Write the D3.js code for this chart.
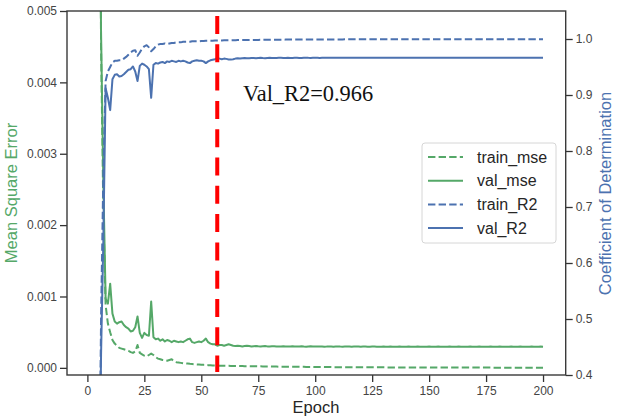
<!DOCTYPE html>
<html><head><meta charset="utf-8">
<script src="https://cdn.jsdelivr.net/npm/d3@7"></script>
<style>body{margin:0;background:#fff}svg{display:block}</style>
</head><body>
<svg id="chart" width="627" height="416"></svg>
<script>
// ---------- data (epochs 1..200) ----------
const trainMse = [
0.08,0.045,0.028,0.017,0.0095,0.0045,0.0022,0.00088,0.00062,0.0005,
0.00039,0.00034,0.00031,0.00028,0.00027,0.00026,0.00025,0.00024,0.00022,0.00021,
0.00023,0.00032,0.00021,0.00019,0.00017,0.00016,0.00018,0.0002,0.00018,0.00015,
0.00013,0.00012,0.00011,0.000105,0.0001,0.00011,0.00012,0.00009,0.00008,0.000075,
0.00007,0.000065,0.000062,0.00006,0.000056,0.000053,0.00005,0.000048,0.000046,0.000044,
0.000042,0.00004,0.000038,0.000036,0.000034,0.000033,0.000032,0.000031,0.00003,0.000029,
2.8e-5,2.8e-5,2.7e-5,2.7e-5,2.6e-5,2.6e-5,2.5e-5,2.5e-5,2.4e-5,2.4e-5,
2.3e-5,2.3e-5,2.2e-5,2.2e-5,2.1e-5,2.1e-5,2.0e-5,2.0e-5,1.9e-5,1.9e-5,
1.8e-5,1.8e-5,1.8e-5,1.7e-5,1.7e-5,1.7e-5,1.6e-5,1.6e-5,1.6e-5,1.5e-5,
1.5e-5,1.5e-5,1.4e-5,1.4e-5,1.4e-5,1.3e-5,1.3e-5,1.3e-5,1.3e-5,1.2e-5,
1.2e-5,1.2e-5,1.2e-5,1.1e-5,1.1e-5,1.1e-5,1.1e-5,1.0e-5,1.0e-5,1.0e-5,
1.0e-5,1.0e-5,9.5e-6,9.5e-6,9.0e-6,9.0e-6,9.0e-6,8.5e-6,8.5e-6,8.5e-6,
8.0e-6,8.0e-6,8.0e-6,7.8e-6,7.6e-6,7.5e-6,7.3e-6,7.2e-6,7.0e-6,7.0e-6,
6.8e-6,6.7e-6,6.6e-6,6.5e-6,6.4e-6,6.2e-6,6.1e-6,6.0e-6,5.9e-6,5.8e-6,
5.7e-6,5.6e-6,5.5e-6,5.4e-6,5.3e-6,5.2e-6,5.1e-6,5.0e-6,5.0e-6,4.9e-6,
4.8e-6,4.7e-6,4.7e-6,4.6e-6,4.5e-6,4.5e-6,4.4e-6,4.3e-6,4.3e-6,4.2e-6,
4.2e-6,4.1e-6,4.0e-6,4.0e-6,3.9e-6,3.9e-6,3.8e-6,3.8e-6,3.7e-6,3.7e-6,
3.6e-6,3.6e-6,3.5e-6,3.5e-6,3.5e-6,3.4e-6,3.4e-6,3.3e-6,3.3e-6,3.3e-6,
3.2e-6,3.2e-6,3.2e-6,3.1e-6,3.1e-6,3.1e-6,3.0e-6,3.0e-6,3.0e-6,2.9e-6,
2.9e-6,2.9e-6,2.8e-6,2.8e-6,2.8e-6,2.7e-6,2.7e-6,2.7e-6,2.7e-6,2.6e-6];

const valMse = [
0.06,0.035,0.022,0.014,0.0085,0.0047,0.0026,0.00097,0.0009,0.00118,
0.00076,0.00065,0.00062,0.00064,0.00065,0.0006,0.00057,0.00055,0.00051,0.00052,
0.00057,0.00072,0.00049,0.00042,0.00049,0.00046,0.00045,0.00093,0.00043,0.0004,
0.00041,0.00038,0.0004,0.00037,0.00039,0.00038,0.00036,0.00038,0.00037,0.00036,
0.00037,0.00036,0.00038,0.0004,0.00041,0.00036,0.00035,0.00036,0.00037,0.00036,
0.00038,0.00041,0.00036,0.00034,0.00033,0.00033,0.00031,0.00032,0.00032,0.00031,
3.2e-4,3.3e-4,3.2e-4,3.1e-4,3.05e-4,3.1e-4,3.05e-4,3.0e-4,3.05e-4,3.1e-4,
3.05e-4,3.0e-4,3.03e-4,3.06e-4,3.02e-4,2.99e-4,3.03e-4,3.05e-4,3.01e-4,2.99e-4,
3.02e-4,3.04e-4,3.01e-4,2.98e-4,3.0e-4,3.03e-4,3.01e-4,2.99e-4,3.01e-4,3.03e-4,
3.0e-4,2.98e-4,3.01e-4,3.02e-4,2.99e-4,2.97e-4,3.0e-4,3.02e-4,3.0e-4,2.98e-4,
2.99e-4,3.01e-4,2.99e-4,2.97e-4,2.98e-4,3.0e-4,2.99e-4,2.97e-4,2.99e-4,3.0e-4,
2.98e-4,2.97e-4,2.99e-4,3.0e-4,2.98e-4,2.96e-4,2.98e-4,2.99e-4,2.98e-4,2.97e-4,
2.98e-4,2.99e-4,2.97e-4,2.96e-4,2.98e-4,2.99e-4,2.97e-4,2.96e-4,2.97e-4,2.98e-4,
2.97e-4,2.96e-4,2.98e-4,2.97e-4,2.96e-4,2.97e-4,2.98e-4,2.97e-4,2.96e-4,2.97e-4,
2.98e-4,2.97e-4,2.96e-4,2.97e-4,2.98e-4,2.97e-4,2.96e-4,2.97e-4,2.97e-4,2.98e-4,
2.97e-4,2.96e-4,2.97e-4,2.98e-4,2.97e-4,2.96e-4,2.97e-4,2.97e-4,2.98e-4,2.97e-4,
2.96e-4,2.97e-4,2.98e-4,2.97e-4,2.96e-4,2.97e-4,2.97e-4,2.98e-4,2.97e-4,2.96e-4,
2.97e-4,2.98e-4,2.97e-4,2.96e-4,2.97e-4,2.97e-4,2.98e-4,2.97e-4,2.96e-4,2.97e-4,
2.98e-4,2.97e-4,2.96e-4,2.97e-4,2.97e-4,2.98e-4,2.97e-4,2.96e-4,2.97e-4,2.98e-4,
2.97e-4,2.96e-4,2.97e-4,2.97e-4,2.98e-4,2.97e-4,2.96e-4,2.97e-4,2.98e-4,2.97e-4];

const trainR2 = [
-5.0,-2.2,-0.9,-0.25,0.1,0.5,0.76,0.925,0.942,0.95,
0.958,0.961,0.961,0.962,0.962,0.965,0.968,0.972,0.976,0.979,
0.98,0.97,0.976,0.983,0.987,0.989,0.985,0.978,0.982,0.987,
0.99,0.991,0.991,0.992,0.991,0.992,0.993,0.993,0.994,0.994,
0.994,0.995,0.995,0.995,0.995,0.996,0.996,0.996,0.996,0.9965,
0.9965,0.9967,0.9968,0.997,0.997,0.9972,0.9973,0.9974,0.9975,0.9976,
0.9977,0.9977,0.9978,0.9979,0.9979,0.998,0.9981,0.9981,0.9982,0.9982,
0.9983,0.9983,0.9984,0.9984,0.9984,0.9985,0.9985,0.9986,0.9986,0.9986,
0.9987,0.9987,0.9987,0.9988,0.9988,0.9988,0.9989,0.9989,0.9989,0.9989,
0.999,0.999,0.999,0.999,0.9991,0.9991,0.9991,0.9991,0.9991,0.9992,
0.9992,0.9992,0.9992,0.9992,0.9992,0.9993,0.9993,0.9993,0.9993,0.9993,
0.9993,0.9993,0.9994,0.9994,0.9994,0.9994,0.9994,0.9994,0.9994,0.9994,
0.9994,0.9995,0.9995,0.9995,0.9995,0.9995,0.9995,0.9995,0.9995,0.9995,
0.9995,0.9995,0.9995,0.9995,0.9995,0.9996,0.9996,0.9996,0.9996,0.9996,
0.9996,0.9996,0.9996,0.9996,0.9996,0.9996,0.9996,0.9996,0.9996,0.9996,
0.9996,0.9996,0.9996,0.9996,0.9996,0.9996,0.9996,0.9996,0.9996,0.9996,
0.9997,0.9997,0.9997,0.9997,0.9997,0.9997,0.9997,0.9997,0.9997,0.9997,
0.9997,0.9997,0.9997,0.9997,0.9997,0.9997,0.9997,0.9997,0.9997,0.9997,
0.9997,0.9997,0.9997,0.9997,0.9997,0.9997,0.9997,0.9997,0.9997,0.9997,
0.9997,0.9997,0.9997,0.9997,0.9997,0.9997,0.9997,0.9997,0.9997,0.9997];

const valR2 = [
-3.2,-1.6,-0.7,-0.2,0.1,0.436,0.64,0.912,0.895,0.873,
0.928,0.936,0.937,0.933,0.934,0.937,0.941,0.945,0.946,0.951,
0.942,0.925,0.952,0.956,0.954,0.951,0.946,0.895,0.954,0.957,
0.956,0.958,0.959,0.957,0.96,0.959,0.961,0.96,0.959,0.961,
0.96,0.961,0.96,0.958,0.957,0.96,0.961,0.962,0.961,0.961,
0.96,0.957,0.96,0.962,0.963,0.964,0.966,0.965,0.964,0.965,
0.9645,0.9635,0.9632,0.964,0.965,0.9655,0.9652,0.9658,0.966,0.9655,
0.9658,0.9662,0.966,0.9657,0.9661,0.9663,0.966,0.9658,0.9662,0.9664,
0.9661,0.9659,0.9662,0.9665,0.9663,0.966,0.9662,0.9664,0.9662,0.966,
0.9663,0.9665,0.9662,0.9661,0.9664,0.9666,0.9663,0.9661,0.9663,0.9665,
0.9664,0.9662,0.9664,0.9666,0.9665,0.9663,0.9664,0.9666,0.9664,0.9663,
0.9665,0.9666,0.9664,0.9663,0.9665,0.9667,0.9665,0.9664,0.9665,0.9666,
0.9665,0.9664,0.9666,0.9667,0.9665,0.9664,0.9666,0.9667,0.9666,0.9665,
0.9666,0.9667,0.9665,0.9666,0.9667,0.9666,0.9665,0.9666,0.9667,0.9666,
0.9665,0.9666,0.9667,0.9666,0.9665,0.9666,0.9667,0.9666,0.9666,0.9665,
0.9666,0.9667,0.9666,0.9665,0.9666,0.9667,0.9666,0.9666,0.9665,0.9666,
0.9667,0.9666,0.9665,0.9666,0.9667,0.9666,0.9666,0.9665,0.9666,0.9667,
0.9666,0.9665,0.9666,0.9667,0.9666,0.9666,0.9665,0.9666,0.9667,0.9666,
0.9665,0.9666,0.9667,0.9666,0.9666,0.9665,0.9666,0.9667,0.9666,0.9665,
0.9666,0.9667,0.9666,0.9665,0.9666,0.9667,0.9666,0.9666,0.9665,0.9666];

const epochs = trainMse.map((_, i) => i + 1);
const xTicks = [0, 25, 50, 75, 100, 125, 150, 175, 200];
const mseTicks = [0.000, 0.001, 0.002, 0.003, 0.004, 0.005];
const r2Ticks = [0.4, 0.5, 0.6, 0.7, 0.8, 0.9, 1.0];
const bestEpoch = 57;
const bestLabel = "Val_R2=0.966";
const seriesNames = ["train_mse", "val_mse", "train_R2", "val_R2"];

// ---------- layout ----------
const L = 67, R = 565.7, T = 11, B = 375;
const GREEN = "#55a868", BLUE = "#4c72b0";
const svg = d3.select("#chart");

const x = d3.scaleLinear().domain([-8.95, 209.95]).range([L, R]);
const yL = d3.scaleLinear().domain([-0.0001, 0.005]).range([B, T]);
const yR = d3.scaleLinear().domain([0.4, 1.05]).range([B, T]);

svg.append("defs").append("clipPath").attr("id", "clip")
  .append("rect").attr("x", L).attr("y", T).attr("width", R - L).attr("height", B - T);

const plot = svg.append("g").attr("clip-path", "url(#clip)");

const lineL = d3.line().x((d, i) => x(epochs[i])).y(d => yL(d));
const lineR = d3.line().x((d, i) => x(epochs[i])).y(d => yR(d));
const DASH = "7.4,3.2";

const series = [
  {name: seriesNames[0], data: trainMse, gen: lineL, color: GREEN, dash: DASH},
  {name: seriesNames[1], data: valMse, gen: lineL, color: GREEN, dash: null},
  {name: seriesNames[2], data: trainR2, gen: lineR, color: BLUE, dash: DASH},
  {name: seriesNames[3], data: valR2, gen: lineR, color: BLUE, dash: null}
];

series.forEach(s => {
  plot.append("path").attr("d", s.gen(s.data))
    .attr("fill", "none").attr("stroke", s.color).attr("stroke-width", 2)
    .attr("stroke-dasharray", s.dash).attr("stroke-linejoin", "round");
});

// red best-epoch line
svg.append("line")
  .attr("x1", x(bestEpoch)).attr("x2", x(bestEpoch))
  .attr("y1", 16).attr("y2", 372)
  .attr("stroke", "#ff0000").attr("stroke-width", 4)
  .attr("stroke-dasharray", "18,10.3");

// axes
const tickFont = g => {
  g.select(".domain").remove();
  g.selectAll(".tick line").attr("stroke", "#333").attr("stroke-width", 1.3);
  g.selectAll(".tick text").attr("fill", "#444")
    .style("font-family", "'Liberation Sans', Arial, sans-serif").style("font-size", "12px");
};
svg.append("g").attr("transform", `translate(${L},0)`)
  .call(d3.axisLeft(yL).tickValues(mseTicks).tickFormat(d3.format(".3f")).tickSize(7).tickPadding(3))
  .call(tickFont);
svg.append("g").attr("transform", `translate(${R},0)`)
  .call(d3.axisRight(yR).tickValues(r2Ticks).tickFormat(d3.format(".1f")).tickSize(7).tickPadding(3))
  .call(tickFont);
svg.append("g").attr("transform", `translate(0,${B})`)
  .call(d3.axisBottom(x).tickValues(xTicks).tickFormat(d3.format("d")).tickSize(7).tickPadding(4))
  .call(tickFont);

// spines
svg.append("rect").attr("x", L).attr("y", T).attr("width", R - L).attr("height", B - T)
  .attr("fill", "none").attr("stroke", "#3a3a3a").attr("stroke-width", 1.4);

// annotation
svg.append("text").attr("x", 243).attr("y", 101)
  .style("font-family", "'Liberation Serif', 'Times New Roman', serif").style("font-size", "22.4px")
  .attr("fill", "#111").text(bestLabel);

// axis labels
svg.append("text").attr("transform", "translate(17,193) rotate(-90)")
  .attr("text-anchor", "middle").attr("fill", GREEN)
  .style("font-family", "'Liberation Sans', Arial, sans-serif").style("font-size", "16.5px")
  .text("Mean Square Error");
svg.append("text").attr("transform", "translate(611,193.5) rotate(-90)")
  .attr("text-anchor", "middle").attr("fill", BLUE)
  .style("font-family", "'Liberation Sans', Arial, sans-serif").style("font-size", "16.5px")
  .text("Coefficient of Determination");
svg.append("text").attr("x", 316).attr("y", 413)
  .attr("text-anchor", "middle").attr("fill", "#262626")
  .style("font-family", "'Liberation Sans', Arial, sans-serif").style("font-size", "16.5px")
  .text("Epoch");

// legend
const lg = svg.append("g");
lg.append("rect").attr("x", 422).attr("y", 143).attr("width", 134).attr("height", 100)
  .attr("rx", 3).attr("fill", "#fff").attr("fill-opacity", 0.85)
  .attr("stroke", "#d6d6d6").attr("stroke-width", 1);
series.forEach((s, i) => {
  const yy = 157 + i * 23.7;
  lg.append("line").attr("x1", 428).attr("x2", 463).attr("y1", yy).attr("y2", yy)
    .attr("stroke", s.color).attr("stroke-width", 2).attr("stroke-dasharray", s.dash);
  lg.append("text").attr("x", 477).attr("y", yy).attr("dy", "0.35em")
    .attr("fill", "#262626")
    .style("font-family", "'Liberation Sans', Arial, sans-serif").style("font-size", "16px")
    .text(s.name);
});
</script>
</body></html>
